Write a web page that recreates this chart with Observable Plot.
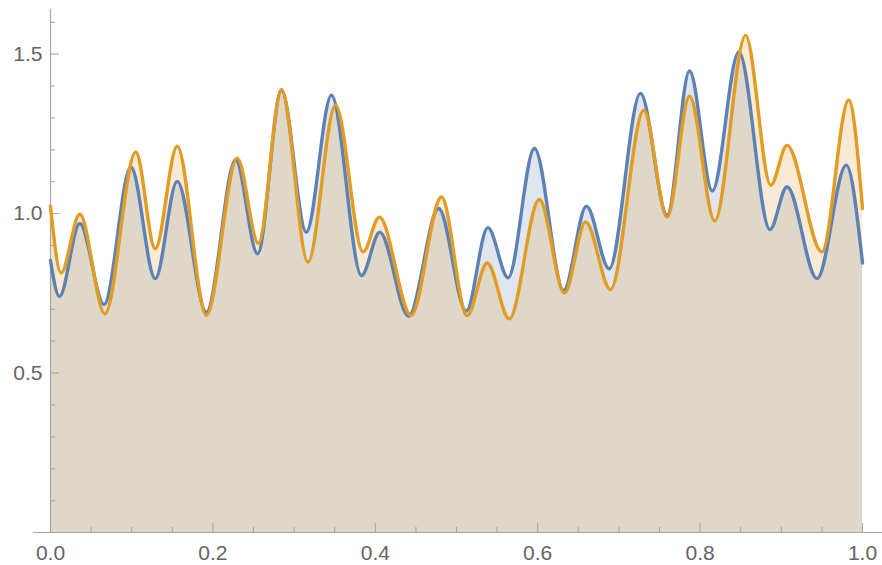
<!DOCTYPE html>
<html><head><meta charset="utf-8">
<script src="https://cdn.jsdelivr.net/npm/d3@7"></script>
<script src="https://cdn.jsdelivr.net/npm/@observablehq/plot@0.6"></script>
<style>body{margin:0;background:#fff} #chart svg{display:block}</style>
</head><body><div id="chart"></div>
<script>
// Blue series (local extrema)
const blueX = [0, 0.011, 0.036, 0.066, 0.099, 0.129, 0.156, 0.192, 0.228, 0.255, 0.2845, 0.315, 0.346, 0.383, 0.4055, 0.441, 0.478, 0.512, 0.5386, 0.5636, 0.596, 0.632, 0.660, 0.688, 0.7266, 0.7594, 0.787, 0.815, 0.8477, 0.886, 0.907, 0.944, 0.980, 1.0];
const blueY = [0.853, 0.74, 0.969, 0.715, 1.146, 0.796, 1.101, 0.691, 1.169, 0.874, 1.387, 0.942, 1.371, 0.806, 0.942, 0.678, 1.016, 0.694, 0.956, 0.799, 1.204, 0.759, 1.023, 0.827, 1.377, 0.995, 1.447, 1.071, 1.507, 0.950, 1.084, 0.796, 1.152, 0.845];
// Orange series
const orangeX = [0, 0.013, 0.036, 0.067, 0.105, 0.129, 0.156, 0.192, 0.230, 0.256, 0.2845, 0.317, 0.351, 0.385, 0.405, 0.444, 0.4815, 0.513, 0.5378, 0.565, 0.602, 0.633, 0.659, 0.6897, 0.7307, 0.7594, 0.787, 0.818, 0.856, 0.887, 0.907, 0.950, 0.983, 1.0];
const orangeY = [1.023, 0.814, 0.998, 0.686, 1.193, 0.890, 1.211, 0.681, 1.174, 0.907, 1.389, 0.848, 1.340, 0.880, 0.989, 0.681, 1.052, 0.680, 0.845, 0.670, 1.044, 0.751, 0.974, 0.762, 1.324, 0.989, 1.368, 0.977, 1.559, 1.089, 1.214, 0.880, 1.356, 1.016];

const xMajor = [0, 0.2, 0.4, 0.6, 0.8, 1.0];
const xMinor = [0.05, 0.1, 0.15, 0.25, 0.3, 0.35, 0.45, 0.5, 0.55, 0.65, 0.7, 0.75, 0.85, 0.9, 0.95];
const yMajor = [0.5, 1.0, 1.5];
const yMinor = [0.1, 0.2, 0.3, 0.4, 0.6, 0.7, 0.8, 0.9, 1.1, 1.2, 1.3, 1.4, 1.6];

const blue = blueX.map((x, i) => ({x, y: blueY[i]}));
const orange = orangeX.map((x, i) => ({x, y: orangeY[i]}));

const W = 882, H = 565, mL = 50, mR = 20, mT = 9, mB = 33;
const yTop = 1.64;
const pxX = (W - mL - mR);        // pixels per x unit
const pxY = (H - mT - mB) / yTop; // pixels per y unit
const BLUE = "#5e81b5", ORANGE = "#e19c24", AX = "#a6a6a6", LBL = "#646464";

const chart = Plot.plot({
  width: W, height: H,
  marginLeft: mL, marginRight: mR, marginTop: mT, marginBottom: mB,
  style: {background: "#fff", fontFamily: "'Liberation Sans', Arial, sans-serif", overflow: "visible"},
  x: {domain: [0, 1], axis: null},
  y: {domain: [0, yTop], axis: null},
  marks: [
    Plot.areaY(blue, {x: "x", y: "y", fill: BLUE, fillOpacity: 0.2, curve: "monotone-x"}),
    Plot.areaY(orange, {x: "x", y: "y", fill: ORANGE, fillOpacity: 0.2, curve: "monotone-x"}),
    // axes
    Plot.ruleX([0], {y1: 0, y2: yTop, stroke: AX, strokeWidth: 1.2}),
    Plot.ruleY([0], {x1: -17 / pxX, x2: 1 + 20 / pxX, stroke: AX, strokeWidth: 1.2}),
    Plot.ruleX(xMajor, {x: d => d, y1: 0, y2: 9 / pxY, stroke: AX, strokeWidth: 1.1}),
    Plot.ruleX(xMinor, {x: d => d, y1: 0, y2: 5 / pxY, stroke: AX, strokeWidth: 1.1}),
    Plot.ruleY(yMajor, {y: d => d, x1: 0, x2: 9 / pxX, stroke: AX, strokeWidth: 1.1}),
    Plot.ruleY(yMinor, {y: d => d, x1: 0, x2: 5 / pxX, stroke: AX, strokeWidth: 1.1}),
    Plot.text(xMajor, {x: d => d, y: 0, text: d => d.toFixed(1), dy: 21, fontSize: 21, fill: LBL}),
    Plot.text(yMajor, {x: 0, y: d => d, text: d => d.toFixed(1), dx: -8, textAnchor: "end", fontSize: 21, fill: LBL}),
    // lines
    Plot.lineY(blue, {x: "x", y: "y", stroke: BLUE, strokeWidth: 3.4, curve: "monotone-x"}),
    Plot.lineY(orange, {x: "x", y: "y", stroke: ORANGE, strokeWidth: 3.4, curve: "monotone-x"})
  ]
});
document.getElementById("chart").append(chart);
</script>
</body></html>
